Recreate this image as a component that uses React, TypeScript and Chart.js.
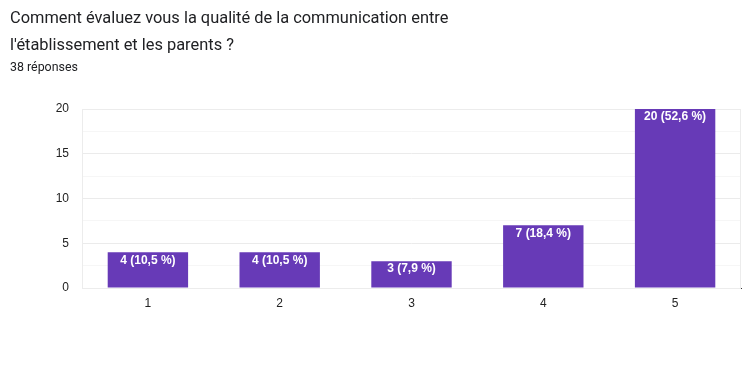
import React, { useEffect, useRef } from "react";
import { Chart, registerables } from "chart.js";

Chart.register(...registerables);

const TITLE_LINES = ["Comment évaluez vous la qualité de la communication entre", "l'établissement et les parents ?"];
const SUBTITLE = "38 réponses";
const CATEGORIES = ["1", "2", "3", "4", "5"];
const COUNTS = [4, 4, 3, 7, 20];
const BAR_LABELS = ["4 (10,5 %)", "4 (10,5 %)", "3 (7,9 %)", "7 (18,4 %)", "20 (52,6 %)"];
const Y_MAX = 20;

const FONT = "Arial, 'Liberation Sans', sans-serif";

const barLabelPlugin = {
  id: "barLabels",
  beforeDatasetsDraw(chart: any) {
    const { ctx, chartArea } = chart;
    ctx.save();
    ctx.strokeStyle = "#ececec";
    ctx.lineWidth = 1;
    ctx.strokeRect(chartArea.left + 0.5, chartArea.top + 0.5, chartArea.right - chartArea.left - 1, chartArea.bottom - chartArea.top);
    ctx.restore();
  },
  afterDatasetsDraw(chart: any) {
    const { ctx } = chart;
    const meta = chart.getDatasetMeta(0);
    ctx.save();
    ctx.fillStyle = "#ffffff";
    ctx.font = "bold 12px " + FONT;
    ctx.textAlign = "center";
    ctx.textBaseline = "middle";
    meta.data.forEach((bar: any, i: number) => {
      ctx.fillText(BAR_LABELS[i], bar.x, bar.y + 8);
    });
    ctx.restore();
  },
};

export default function App() {
  const ref = useRef<HTMLCanvasElement>(null);
  useEffect(() => {
    if (!ref.current) return;
    const chart = new Chart(ref.current, {
      type: "bar",
      data: {
        labels: CATEGORIES,
        datasets: [
          {
            data: COUNTS,
            backgroundColor: "#673ab7",
            barPercentage: 0.61,
            categoryPercentage: 1,
          },
        ],
      },
      options: {
        animation: false,
        responsive: false,
        maintainAspectRatio: false,
        layout: { padding: { left: 0, right: 3, top: 109, bottom: 54 } },
        plugins: { legend: { display: false }, tooltip: { enabled: false } },
        scales: {
          x: {
            grid: { display: false, drawTicks: false },
            border: { display: true, color: "#333333", width: 1 },
            ticks: { color: "#222222", font: { family: FONT, size: 12 }, padding: 8 },
            afterFit: (s: any) => { s.height = 30; },
          },
          y: {
            min: 0,
            max: Y_MAX,
            grid: {
              drawTicks: false,
              color: (c: any) => (c.tick && c.tick.value % 5 === 0 ? "#ebebeb" : "#f6f6f6"),
            },
            border: { display: false },
            ticks: {
              stepSize: 2.5,
              color: "#222222",
              font: { family: FONT, size: 12 },
              padding: 13,
              callback: (v: any) => (Number(v) % 5 === 0 ? String(v) : ""),
            },
            afterFit: (s: any) => { s.width = 82; },
          },
        },
      },
      plugins: [barLabelPlugin],
    });
    return () => chart.destroy();
  }, []);

  return (
    <div style={{ position: "fixed", left: 0, top: 0, width: 744, height: 372, background: "#fff", fontFamily: "Roboto, Arial, sans-serif" }}>
      <canvas ref={ref} width={744} height={372} style={{ position: "absolute", left: 0, top: 0, width: 744, height: 372 }} />
      <div style={{ position: "absolute", left: 10, top: 4, fontSize: 16.4, lineHeight: "27px", color: "#202124" }}>
        {TITLE_LINES.map((l, i) => (
          <div key={i}>{l}</div>
        ))}
      </div>
      <div style={{ position: "absolute", left: 10, top: 59, fontSize: 12.4, lineHeight: "16px", color: "#202124" }}>{SUBTITLE}</div>
    </div>
  );
}
